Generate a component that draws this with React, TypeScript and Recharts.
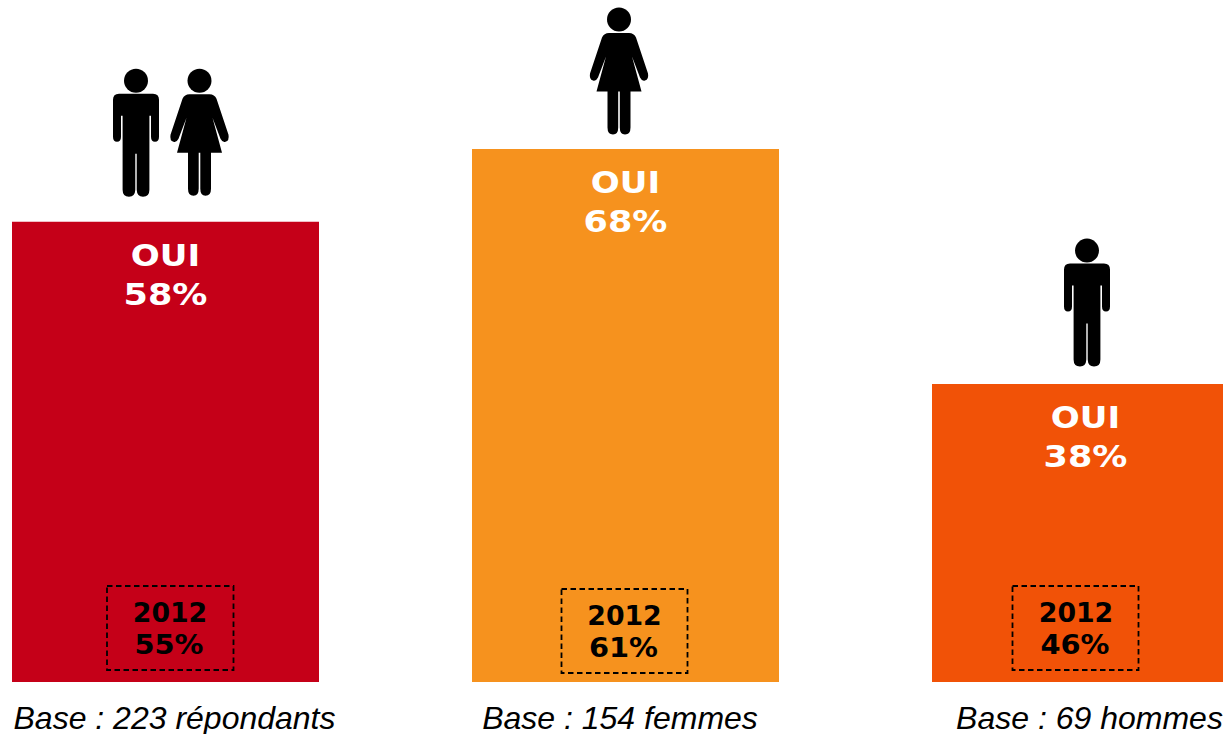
import React from "react";
import { BarChart, Bar, XAxis, YAxis, Cell, LabelList } from "recharts";

const groups = ["Base : 223 répondants", "Base : 154 femmes", "Base : 69 hommes"];
const ouiHeights = [58.7, 68, 38];
const ouiLabels = ["58%", "68%", "38%"];
const priorLabels = ["55%", "61%", "46%"];
const priorYear = "2012";
const ouiWord = "OUI";
const colors = ["#C50018", "#F6921E", "#F15207"];
const figures: ("man" | "woman")[][] = [["man", "woman"], ["woman"], ["man"]];

const chartData = groups.map((g, i) => ({ group: g, oui: ouiHeights[i], index: i }));

// Placement offsets relative to each bar's centre/top/bottom
const figureDx = [[-29.5, 34], [-6.5], [1.5]];
const figureTopDy = [[-153, -153], [-141.5], [-145.5]];
const boxRange = [[-58.5, 68], [-64, 62], [-73, 53]];
const boxBottomDy = [12, 9, 12];
const prevTextDx = [4.5, -1, -9.5];
const tickDx = [9.5, -5, 4.5];

const VERDANA = "'DejaVu Sans', Verdana, sans-serif";

const MAN =
  "M-17 25H17Q23 25 23 31V68Q23 73 19 73Q15 73 15 68V47H13.4V121Q13.4 128 7 128Q1 128 .7 121V85H-.7V121Q-1 128 -7 128Q-13.4 128 -13.4 121V47H-15V68Q-15 73 -19 73Q-23 73 -23 68V31Q-23 25 -17 25Z";
const WOMAN =
  "M-10 25.5H10Q15 25.5 17 30L29 66Q30 72 26 73Q23 74 21 70L13 49L22.5 84H11.5V120Q11.5 127 6 127Q.8 127 .8 120V84H-.8V120Q-.8 127 -6 127Q-11.5 127 -11.5 120V84H-22.5L-13 49L-21 70Q-23 74 -26 73Q-30 72 -29 66L-17 30Q-15 25.5 -10 25.5Z";

function Figure({ kind, cx, top }: { kind: "man" | "woman"; cx: number; top: number }) {
  return (
    <g transform={`translate(${cx} ${top})`} fill="#000">
      <circle cx={0} cy={12} r={12} />
      <path d={kind === "man" ? MAN : WOMAN} />
    </g>
  );
}

function Wide({ x, y, sx, children }: { x: number; y: number; sx: number; children: string }) {
  return (
    <text transform={`translate(${x} ${y}) scale(${sx} 1)`} x={0} y={0}>
      {children}
    </text>
  );
}

function Annotation(props: any) {
  const { x, y, width, height, index } = props;
  const cx = x + width / 2;
  const bottom = y + height;
  const [bl, br] = boxRange[index];
  const boxBottom = bottom - boxBottomDy[index];
  const textX = cx + prevTextDx[index];
  return (
    <g>
      {figures[index].map((kind, k) => (
        <Figure key={k} kind={kind} cx={cx + figureDx[index][k]} top={y + figureTopDy[index][k]} />
      ))}
      <g fill="#fff" fontFamily={VERDANA} fontWeight={700} fontSize={31} textAnchor="middle">
        <Wide x={cx} y={y + 44} sx={1.1}>{ouiWord}</Wide>
        <Wide x={cx} y={y + 83} sx={1.13}>{ouiLabels[index]}</Wide>
      </g>
      <rect
        x={cx + bl}
        y={boxBottom - 84}
        width={br - bl}
        height={84}
        fill="none"
        stroke="#000"
        strokeWidth={1.8}
        strokeDasharray="5.5 3.5"
      />
      <g fill="#000" fontFamily={VERDANA} fontWeight={700} fontSize={26} textAnchor="middle">
        <Wide x={textX} y={boxBottom - 48} sx={1.03}>{priorYear}</Wide>
        <Wide x={textX - 1} y={boxBottom - 16} sx={1.11}>{priorLabels[index]}</Wide>
      </g>
    </g>
  );
}

function BaseTick(props: any) {
  const { x, y, payload, index } = props;
  return (
    <text
      x={x + tickDx[index]}
      y={y + 41}
      textAnchor="middle"
      fontFamily="'Liberation Sans', Arial, sans-serif"
      fontStyle="italic"
      fontSize={32}
      fill="#000"
    >
      {payload.value}
    </text>
  );
}

export default function App() {
  return (
    <div style={{ position: "absolute", left: 0, top: 0, width: 1223, height: 734, overflow: "hidden", background: "#fff" }}>
      <BarChart
        width={1223}
        height={734}
        data={chartData}
        margin={{ top: 0, right: -92, bottom: 0, left: -65 }}
        barCategoryGap={0}
      >
        <XAxis
          dataKey="group"
          height={52}
          interval={0}
          axisLine={false}
          tickLine={false}
          tickMargin={0}
          tick={BaseTick}
        />
        <YAxis hide domain={[0, 87]} width={0} />
        <Bar dataKey="oui" barSize={307} isAnimationActive={false}>
          {chartData.map((d, i) => (
            <Cell key={d.group} fill={colors[i]} />
          ))}
          <LabelList dataKey="oui" content={Annotation} />
        </Bar>
      </BarChart>
    </div>
  );
}
